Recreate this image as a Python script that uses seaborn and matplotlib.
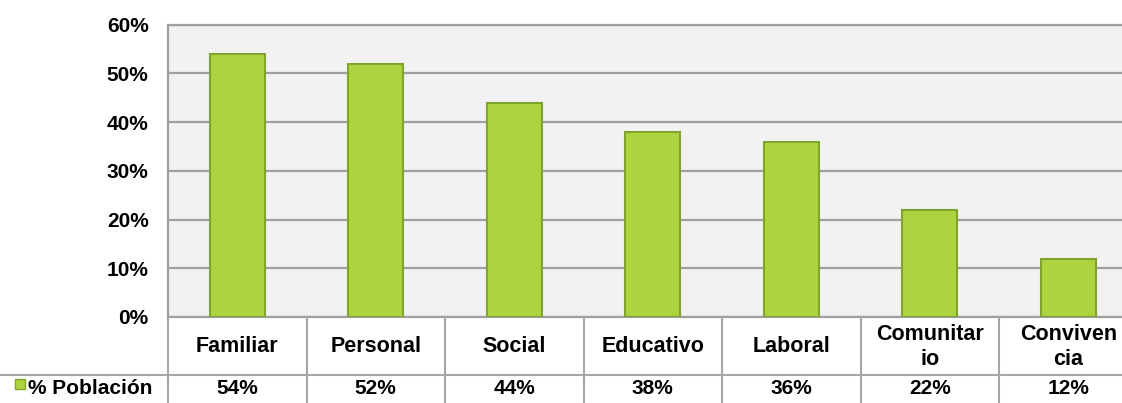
import matplotlib
matplotlib.use("Agg")
import matplotlib.pyplot as plt
import matplotlib.transforms as mtransforms
from matplotlib.lines import Line2D
from matplotlib.patches import Rectangle
import pandas as pd
import seaborn as sns

# Data
categories = ["Familiar", "Personal", "Social", "Educativo", "Laboral", "Comunitario", "Convivencia"]
table_labels = ["Familiar", "Personal", "Social", "Educativo", "Laboral", "Comunitar\nio", "Conviven\ncia"]
values = [54, 52, 44, 38, 36, 22, 12]
series_name = "% Población"
y_ticks = [0, 10, 20, 30, 40, 50, 60]

bar_color = "#add43f"
edge_color = "#7fa52e"
grid_color = "#a0a0a0"
table_color = "#a6a6a6"

plt.rcParams["font.family"] = ["Liberation Sans", "DejaVu Sans"]

df = pd.DataFrame({"categoria": categories, "valor": values})

W, H = 1122, 403
fig = plt.figure(figsize=(W / 100, H / 100), dpi=100)

# plot area runs past the right edge, as in the original screenshot
left, right, top, bottom = 168, 1137.5, 24.5, 317
ax = fig.add_axes([left / W, 1 - bottom / H, (right - left) / W, (bottom - top) / H])
ax.set_facecolor("#f2f2f2")

sns.barplot(data=df, x="categoria", y="valor", color=bar_color, width=0.4,
            edgecolor=edge_color, linewidth=1.5, saturation=1, ax=ax, zorder=3)

ax.set_ylim(0, 60)
ax.set_xlim(-0.5, len(categories) - 0.5)
ax.set_yticks(y_ticks)
ax.set_yticklabels([f"{t}%" for t in y_ticks], fontsize=15, fontweight="bold")
ax.tick_params(axis="y", length=0, pad=14)
ax.set_xticks([])
ax.set_xlabel("")
ax.set_ylabel("")
ax.yaxis.grid(True, color=grid_color, linewidth=1.6, zorder=0)
ax.set_axisbelow(True)
for side in ["top", "bottom", "left"]:
    ax.spines[side].set_color(grid_color)
    ax.spines[side].set_linewidth(1.6)
ax.spines["right"].set_visible(False)

# data table below the chart
blend = mtransforms.blended_transform_factory(ax.transData, fig.transFigure)
row_split = 1 - 375 / H
for i in range(len(categories) + 1):
    fig.add_artist(Line2D([i - 0.5, i - 0.5], [-0.05, 1 - bottom / H], transform=blend,
                          color=table_color, linewidth=1.5))
fig.add_artist(Line2D([0, 1], [row_split, row_split], transform=fig.transFigure,
                      color=table_color, linewidth=1.5))

for i, (lab, v) in enumerate(zip(table_labels, values)):
    fig.text(i, 1 - 347 / H, lab, transform=blend, ha="center", va="center",
             fontsize=15.5, fontweight="bold", multialignment="center", linespacing=1.2)
    fig.text(i, 1 - 389 / H, f"{v}%", transform=blend, ha="center", va="center",
             fontsize=15, fontweight="bold")

# legend key in the table
fig.add_artist(Rectangle((15 / W, 1 - 389 / H), 10 / W, 10 / H, transform=fig.transFigure,
                         facecolor=bar_color, edgecolor=edge_color, linewidth=1))
fig.text(28 / W, 1 - 389 / H, series_name, ha="left", va="center",
         fontsize=15, fontweight="bold")

fig.savefig("out.png", dpi=100)
